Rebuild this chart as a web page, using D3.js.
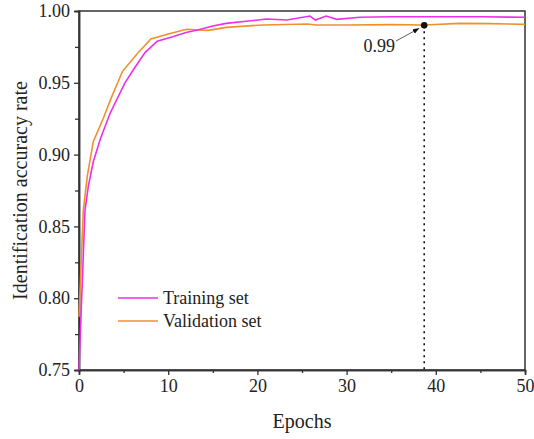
<!DOCTYPE html>
<html><head><meta charset="utf-8">
<script src="https://cdn.jsdelivr.net/npm/d3@7"></script>
<style>body{margin:0;background:#fff}svg{display:block}text{font-family:"Liberation Serif","Times New Roman",serif;fill:#222}</style>
</head><body><svg id="c" width="534" height="439"></svg>
<script>
const trainEpochs = [0, 0.3, 0.67, 1.05, 1.6, 2.4, 3.5, 5.15, 6.3, 7.4, 8.77, 10.5, 12, 13.4, 15, 16.5, 19, 21, 23.3, 25.9, 26.5, 27.7, 28.9, 31.5, 35, 40, 45, 50];
const trainAcc = [0.75, 0.80, 0.861, 0.878, 0.895, 0.911, 0.929, 0.950, 0.961, 0.971, 0.979, 0.982, 0.985, 0.987, 0.9895, 0.9914, 0.993, 0.9944, 0.9937, 0.9965, 0.9937, 0.9965, 0.9942, 0.9956, 0.996, 0.996, 0.996, 0.9956];
const valEpochs = [0, 0.48, 0.93, 1.6, 2.7, 3.65, 4.88, 6.5, 8.06, 10, 12.06, 13.4, 14.5, 16.5, 20.6, 25.6, 26.6, 30, 35, 38.7, 42.7, 46, 50];
const valAcc = [0.787, 0.861, 0.885, 0.909, 0.925, 0.940, 0.958, 0.970, 0.9805, 0.984, 0.9873, 0.9868, 0.9865, 0.9886, 0.9903, 0.9909, 0.9903, 0.9903, 0.9905, 0.9903, 0.9914, 0.9912, 0.9907];
const xTicks = [0, 10, 20, 30, 40, 50];
const xMinor = [5, 15, 25, 35, 45];
const yTicks = [0.75, 0.80, 0.85, 0.90, 0.95, 1.00];
const yMinor = [0.775, 0.825, 0.875, 0.925, 0.975];
const seriesNames = ["Training set", "Validation set"];
const markEpoch = 38.7, markValue = 0.990, markLabel = "0.99";

const svg = d3.select("#c");
const L = 79, R = 525, T = 11, B = 370;
const x = d3.scaleLinear().domain([0, 50]).range([L, R]);
const y = d3.scaleLinear().domain([0.75, 1.0]).range([B, T]);
const colors = ["#ee2ee8", "#f0902c"];
const axisCol = "#333";

// frame
svg.append("rect").attr("x", L).attr("y", T).attr("width", R - L).attr("height", B - T)
  .attr("fill", "none").attr("stroke", axisCol).attr("stroke-width", 1.5);

// axes
const xa = svg.append("g").attr("transform", `translate(0,${B})`)
  .call(d3.axisBottom(x).tickValues(xTicks).tickFormat(d3.format("d")).tickSize(5).tickPadding(4));
const xm = svg.append("g").attr("transform", `translate(0,${B})`)
  .call(d3.axisBottom(x).tickValues(xMinor).tickFormat("").tickSize(3));
const ya = svg.append("g").attr("transform", `translate(${L},0)`)
  .call(d3.axisLeft(y).tickValues(yTicks).tickFormat(d3.format(".2f")).tickSize(5).tickPadding(4));
const ym = svg.append("g").attr("transform", `translate(${L},0)`)
  .call(d3.axisLeft(y).tickValues(yMinor).tickFormat("").tickSize(4));
[xa, xm, ya, ym].forEach(g => {
  g.select(".domain").attr("stroke", axisCol).attr("stroke-width", 1.5);
  g.selectAll(".tick line").attr("stroke", axisCol).attr("stroke-width", 1.3);
  g.selectAll(".tick text").attr("font-size", 18).attr("font-family", "Liberation Serif").attr("fill", "#222");
});

// lines
const line = d3.line().x(d => x(d[0])).y(d => y(d[1]));
const tr = trainEpochs.map((e, i) => [e, trainAcc[i]]);
const va = valEpochs.map((e, i) => [e, valAcc[i]]);
svg.append("path").datum(va).attr("d", line).attr("fill", "none").attr("stroke", colors[1]).attr("stroke-width", 1.6);
svg.append("path").datum(tr).attr("d", line).attr("fill", "none").attr("stroke", colors[0]).attr("stroke-width", 1.6);

// annotation
svg.append("line").attr("x1", x(markEpoch)).attr("x2", x(markEpoch)).attr("y1", y(markValue)).attr("y2", B)
  .attr("stroke", "#111").attr("stroke-width", 1.6).attr("stroke-dasharray", "2,4");
svg.append("circle").attr("cx", x(markEpoch)).attr("cy", y(markValue)).attr("r", 3.3).attr("fill", "#111");
svg.append("defs").append("marker").attr("id", "ah").attr("viewBox", "0 0 10 10").attr("refX", 10).attr("refY", 5)
  .attr("markerWidth", 8).attr("markerHeight", 8).attr("orient", "auto")
  .append("path").attr("d", "M0,1 L10,5 L0,9 z").attr("fill", "#111");
svg.append("line").attr("x1", 396).attr("y1", 41).attr("x2", x(markEpoch) - 5).attr("y2", y(markValue) + 3)
  .attr("stroke", "#333").attr("stroke-width", 0.8).attr("marker-end", "url(#ah)");
svg.append("text").attr("x", 395).attr("y", 52).attr("text-anchor", "end").attr("font-size", 18).text(markLabel);

// legend
seriesNames.forEach((n, i) => {
  const ly = 298 + i * 23;
  svg.append("line").attr("x1", 118).attr("x2", 158).attr("y1", ly).attr("y2", ly)
    .attr("stroke", colors[i]).attr("stroke-width", 1.6);
  svg.append("text").attr("x", 163).attr("y", ly + 6).attr("font-size", 18).text(n);
});

// titles
svg.append("text").attr("x", (L + R) / 2).attr("y", 428).attr("text-anchor", "middle").attr("font-size", 20).text("Epochs");
svg.append("text").attr("transform", `translate(27,${(T + B) / 2}) rotate(-90)`).attr("text-anchor", "middle")
  .attr("font-size", 20).text("Identification accuracy rate");
</script></body></html>
